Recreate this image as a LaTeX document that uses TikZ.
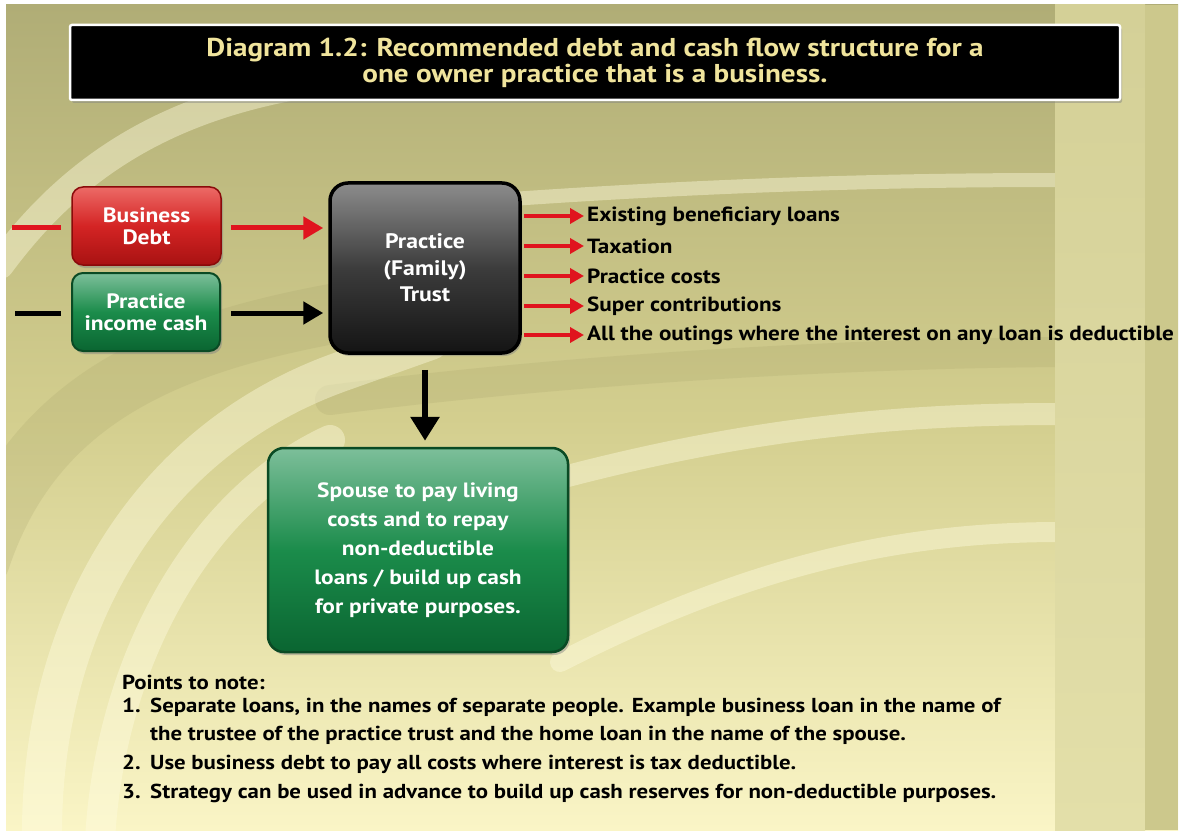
\documentclass[tikz,border=0pt]{standalone}
\usepackage{fontspec}
\setmainfont{PT Sans}[FakeStretch=1.13]
\usetikzlibrary{arrows.meta,shadows,calc}

\definecolor{bgtop}{HTML}{B0AD76}
\definecolor{bgmid}{HTML}{D3CE8E}
\definecolor{bgbot}{HTML}{FAF5C6}
\definecolor{striptop}{HTML}{D4D097}
\definecolor{stripbot}{HTML}{E3DFA9}
\definecolor{stripedge}{HTML}{CCC88C}
\definecolor{bandlight}{HTML}{FFFCE0}
\definecolor{banddark}{HTML}{A29E66}
\definecolor{titletext}{HTML}{F0E49C}
\definecolor{arrowred}{HTML}{E0141E}
\definecolor{redtop}{HTML}{EC6A66}
\definecolor{redmid}{HTML}{D42424}
\definecolor{redbot}{HTML}{A81212}
\definecolor{redline}{HTML}{8A0A0A}
\definecolor{greentop}{HTML}{7DBF9A}
\definecolor{greenmid}{HTML}{1B8C4B}
\definecolor{greenbot}{HTML}{0A6531}
\definecolor{greenline}{HTML}{0A4A24}
\definecolor{graytop}{HTML}{8C8C8C}
\definecolor{graymid}{HTML}{3C3C3C}
\definecolor{graybot}{HTML}{141414}

\tikzset{
  band/.style={draw=bandlight, line width=#1, opacity=0.42, line cap=round},
  darkband/.style={draw=banddark, line width=#1, opacity=0.2, line cap=round},
  boxshadow/.style={drop shadow={opacity=0.45, shadow xshift=2pt, shadow yshift=-3pt}},
  titlebox/.style={fill=black, draw=white, line width=2.5pt, rounded corners=2pt,
    boxshadow, align=center, text=titletext, inner sep=0pt,
    font=\fontsize{25.8}{26}\selectfont\bfseries},
  redbox/.style={draw=redline, line width=1.5pt, rounded corners=11pt,
    top color=redtop, bottom color=redbot, middle color=redmid, boxshadow,
    align=center, text=white, inner sep=0pt, font=\fontsize{20.8}{22}\selectfont\bfseries},
  greenbox/.style={draw=greenline, line width=2pt, rounded corners=11pt,
    top color=greentop, bottom color=greenbot, middle color=greenmid, boxshadow,
    align=center, text=white, inner sep=0pt, font=\fontsize{20.8}{22}\selectfont\bfseries},
  trustbox/.style={draw=black, line width=3.5pt, rounded corners=18pt,
    top color=graytop, bottom color=graybot, middle color=graymid, boxshadow,
    align=center, text=white, inner sep=0pt, font=\fontsize{21}{26.5}\selectfont\bfseries},
  spousebox/.style={draw=greenline, line width=2.5pt, rounded corners=16pt,
    top color=greentop, bottom color=greenbot, middle color=greenmid, boxshadow,
    align=center, text=white, inner sep=0pt, font=\fontsize{20.7}{29}\selectfont\bfseries},
  outlabel/.style={anchor=west, inner sep=0pt, text=black,
    font=\fontsize{20.5}{22}\selectfont\bfseries},
  notetext/.style={anchor=base west, inner sep=0pt, text=black,
    font=\fontsize{20.2}{22}\selectfont\bfseries},
  redflow/.style={draw=arrowred, line width=5pt, -{Triangle[length=20pt,width=22pt]}},
  blackflow/.style={draw=black, line width=5pt, -{Triangle[length=20pt,width=22pt]}},
  redout/.style={draw=arrowred, line width=4pt, -{Triangle[length=14pt,width=15pt]}},
  downflow/.style={draw=black, line width=6pt, -{Triangle[length=24pt,width=28pt]}},
  feedred/.style={draw=arrowred, line width=5pt},
  feedblack/.style={draw=black, line width=5pt},
}

\begin{document}
\begin{tikzpicture}[x=1pt,y=-1pt]
\useasboundingbox (0,0) rectangle (1182,834);
\fill[white] (0,0) rectangle (1182,834);

% background
\shade[top color=bgtop, bottom color=bgbot, middle color=bgmid] (6,5) rectangle (1178,830);
\begin{scope}
\clip (6,5) rectangle (1055,830);
% swirl bands
\draw[darkband=60] (-20,560) .. controls (40,380) and (200,330) .. (420,300);
\draw[darkband=30] (330,400) .. controls (600,365) and (900,352) .. (1080,352);
\draw[band=28] (0,265) .. controls (70,170) and (160,110) .. (300,85);
\draw[band=40] (42,840) .. controls (40,620) and (150,440) .. (340,372) -- (430,340);
\draw[band=30] (100,840) .. controls (110,660) and (200,500) .. (330,440);
\draw[band=14] (430,205) .. controls (700,184) and (900,180) .. (1060,180);
\draw[band=22] (560,478) .. controls (750,428) and (900,414) .. (1060,414);
\draw[band=20] (560,662) .. controls (750,565) and (900,532) .. (1060,532);
\end{scope}
\shade[top color=striptop, bottom color=stripbot] (1055,5) rectangle (1145,830);
\fill[stripedge] (1145,5) rectangle (1178,830);

% title
\node[titlebox, minimum width=1050pt, minimum height=75pt] (title) at (595,62.5)
  {Diagram 1.2: Recommended debt and cash flow structure for a\\one owner practice that is a business.};

% boxes
\node[redbox, minimum width=149pt, minimum height=78pt] (debt) at (146.5,226) {Business\\Debt};
\node[greenbox, minimum width=148pt, minimum height=78pt] (income) at (146,312) {Practice\\income cash};
\node[trustbox, minimum width=190pt, minimum height=170pt] (trust) at (425,268) {Practice\\(Family)\\Trust};
\node[spousebox, minimum width=300pt, minimum height=204pt] (spouse) at (418,550)
  {Spouse to pay living\\costs and to repay\\non-deductible\\loans / build up cash\\for private purposes.};

% incoming flows
\coordinate (debtin) at (12,228);
\coordinate (incomein) at (15,313);
\draw[feedred, shorten >=10pt] (debtin) -- (debtin -| debt.west);
\draw[feedblack, shorten >=10pt] (incomein) -- (incomein -| income.west);
\draw[redflow, shorten <=9pt, shorten >=5pt] (debt.east |- debtin) -- (debtin -| trust.west);
\draw[blackflow, shorten <=10pt, shorten >=5pt] (income.east |- incomein) -- (incomein -| trust.west);

% outgoing items
\node[outlabel] (o1) at (587,216) {Existing beneficiary loans};
\node[outlabel] (o2) at (587,246) {Taxation};
\node[outlabel] (o3) at (587,276) {Practice costs};
\node[outlabel] (o4) at (587,306) {Super contributions};
\node[outlabel] (o5) at (587,335) {All the outings where the interest on any loan is deductible};
\foreach \o in {o1,o2,o3,o4,o5}
  \draw[redout, shorten <=2pt, shorten >=3pt] (trust.east |- \o.west) -- (\o.west);

% down to spouse
\draw[downflow, shorten <=15pt, shorten >=6pt] (trust.south) -- (trust.south |- spouse.north);

% notes
\node[notetext] (nhead) at (122,689) {Points to note:};
\node[notetext] (n1) at (122,712) {1.};
\node[notetext] (t1a) at (150,712) {Separate loans, in the names of separate people. Example business loan in the name of};
\node[notetext] (t1b) at (150,740) {the trustee of the practice trust and the home loan in the name of the spouse.};
\node[notetext] (n2) at (122,769) {2.};
\node[notetext] (t2) at (150,769) {Use business debt to pay all costs where interest is tax deductible.};
\node[notetext] (n3) at (122,798) {3.};
\node[notetext] (t3) at (150,798) {Strategy can be used in advance to build up cash reserves for non-deductible purposes.};
\end{tikzpicture}
\end{document}
